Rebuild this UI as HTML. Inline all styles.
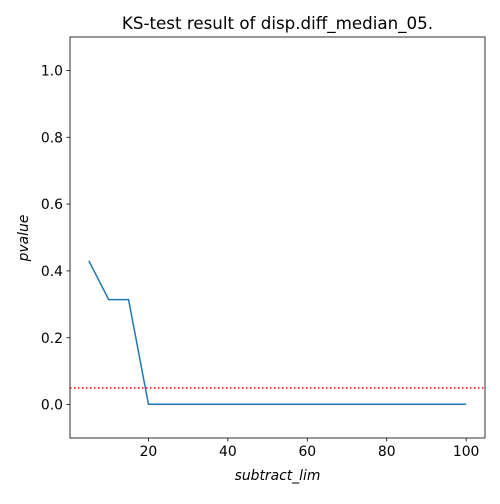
<!DOCTYPE html>
<html><head><meta charset="utf-8"><style>
body{margin:0;background:#fff;font-family:"DejaVu Sans",sans-serif}
</style></head><body>
<svg width="500" height="500" xmlns="http://www.w3.org/2000/svg" font-family="DejaVu Sans, sans-serif">
<rect width="500" height="500" fill="#fff"/>
<g id="plot"></g>
<text x="277.5" y="29" text-anchor="middle" font-size="16.7">KS-test result of disp.diff_median_05.</text>
<text x="277.5" y="480" text-anchor="middle" font-size="13.9" font-style="italic">subtract_lim</text>
<text x="0" y="0" transform="translate(28,238) rotate(-90)" text-anchor="middle" font-size="13.9" font-style="italic">pvalue</text>
</svg>
<script>
const xValues=[5,10,15,20,25,30,35,40,45,50,55,60,65,70,75,80,85,90,95,100];
const pValues=[0.43,0.314,0.314,0.001,0.001,0.001,0.001,0.001,0.001,0.001,0.001,0.001,0.001,0.001,0.001,0.001,0.001,0.001,0.001,0.001];
const threshold=0.05;
const xTicks=[20,40,60,80,100];
const yTicks=[0.0,0.2,0.4,0.6,0.8,1.0];
const L=70,R=485,T=37,B=438;
const xMin=0.25,xMax=104.75,yMin=-0.1,yMax=1.1;
const sx=v=>L+(v-xMin)/(xMax-xMin)*(R-L);
const sy=v=>B-(v-yMin)/(yMax-yMin)*(B-T);
const ns="http://www.w3.org/2000/svg";
const g=document.getElementById('plot');
function mk(t,a){const e=document.createElementNS(ns,t);for(const k in a)e.setAttribute(k,a[k]);g.appendChild(e);return e;}
const th=mk('line',{x1:L,x2:R,y1:sy(threshold),y2:sy(threshold),stroke:'#ff0000','stroke-width':1.5,'stroke-dasharray':'1.5,2.5'});


const ln=mk('polyline',{points:xValues.map((x,i)=>sx(x)+','+sy(pValues[i])).join(' '),fill:'none',stroke:'#1f77b4','stroke-width':1.5});


const fr=mk('rect',{x:L,y:T,width:R-L,height:B-T,fill:'none',stroke:'#000','stroke-width':0.8});


xTicks.forEach(t=>{
 const tk=mk('line',{x1:sx(t),x2:sx(t),y1:B,y2:B+3.5,stroke:'#000','stroke-width':0.8});
 
 
 const tx=mk('text',{x:sx(t),y:B+18,'text-anchor':'middle','font-size':13.9});
 tx.textContent=t;
 
 
});
yTicks.forEach(t=>{
 const tk=mk('line',{x1:L-3.5,x2:L,y1:sy(t),y2:sy(t),stroke:'#000','stroke-width':0.8});
 
 
 const tx=mk('text',{x:L-7,y:sy(t)+5,'text-anchor':'end','font-size':13.9});
 tx.textContent=t.toFixed(1);
 
 
});
</script>
</body></html>
